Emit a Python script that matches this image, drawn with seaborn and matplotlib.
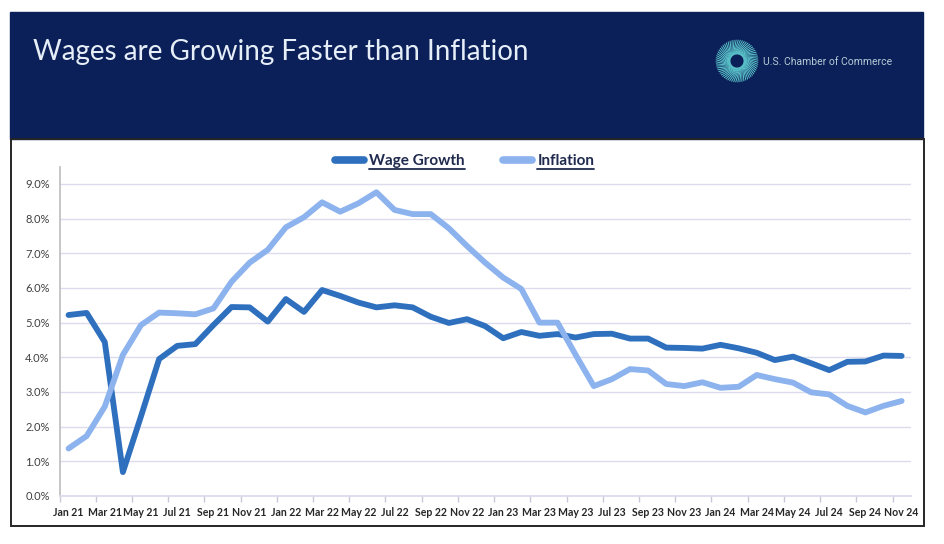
import numpy as np
import pandas as pd
import seaborn as sns
import matplotlib.pyplot as plt
from matplotlib.lines import Line2D
from matplotlib.patches import Rectangle
from matplotlib.ticker import PercentFormatter, FixedLocator

# monthly data, Jan 2021 - Nov 2024 (percent)
months = pd.date_range("2021-01-01", "2024-11-01", freq="MS")
tick_labels = ["Jan 21", "Mar 21", "May 21", "Jul 21", "Sep 21", "Nov 21",
               "Jan 22", "Mar 22", "May 22", "Jul 22", "Sep 22", "Nov 22",
               "Jan 23", "Mar 23", "May 23", "Jul 23", "Sep 23", "Nov 23",
               "Jan 24", "Mar 24", "May 24", "Jul 24", "Sep 24", "Nov 24"]
wage_growth = [5.22, 5.28, 4.44, 0.69, 2.30, 3.95, 4.33, 4.38, 4.93, 5.45, 5.44, 5.03,
               5.68, 5.31, 5.94, 5.77, 5.58, 5.44, 5.50, 5.44, 5.17, 4.99, 5.10, 4.90,
               4.55, 4.73, 4.62, 4.67, 4.57, 4.67, 4.68, 4.54, 4.54, 4.28, 4.27, 4.25,
               4.36, 4.26, 4.13, 3.92, 4.02, 3.83, 3.63, 3.87, 3.88, 4.05, 4.04]
inflation = [1.37, 1.73, 2.58, 4.07, 4.93, 5.29, 5.27, 5.24, 5.41, 6.18, 6.73, 7.10,
             7.75, 8.04, 8.47, 8.20, 8.44, 8.76, 8.25, 8.13, 8.13, 7.72, 7.21, 6.73,
             6.30, 5.97, 5.00, 5.00, 4.07, 3.17, 3.37, 3.66, 3.62, 3.23, 3.17, 3.28,
             3.12, 3.15, 3.49, 3.37, 3.27, 2.99, 2.93, 2.60, 2.41, 2.60, 2.74]

df = pd.DataFrame({"month": np.arange(len(months)),
                   "Wage Growth": np.array(wage_growth) / 100,
                   "Inflation": np.array(inflation) / 100})
long = df.melt(id_vars="month", var_name="series", value_name="rate")

sns.set_theme(style="white")
plt.rcParams["font.family"] = ["Lato", "DejaVu Sans"]

W, H = 944, 544
fig = plt.figure(figsize=(W / 100, H / 100), dpi=100)

# background slide: navy header, logo, chart frame (pixel coords)
bg = fig.add_axes([0, 0, 1, 1], zorder=0)
bg.set_xlim(0, W)
bg.set_ylim(H, 0)
bg.axis("off")
bg.add_patch(Rectangle((10, 12), 913, 127, color="#0B1F58"))
bg.add_patch(Rectangle((11, 139), 913, 387, fill=False, edgecolor="#262626", lw=1.4))
bg.text(33, 52, "Wages are Growing Faster than Inflation", color="#E6EEF8",
        fontsize=20, va="center", ha="left")

cx, cy = 737, 61
for a in np.linspace(0, 2 * np.pi, 64, endpoint=False):
    r1, r2 = 7, 21
    bg.plot([cx + r1 * np.cos(a), cx + r2 * np.cos(a + 0.55)],
            [cy + r1 * np.sin(a), cy + r2 * np.sin(a + 0.55)],
            color="#5CC6CC", lw=0.7)
bg.text(763, 62, "U.S. Chamber of Commerce", color="#B5CBD6", fontsize=7.5,
        family=["Roboto", "DejaVu Sans"], va="center", ha="left")

# chart
ax = fig.add_axes([59.5 / W, 48 / H, 851.2 / W, 329.4 / H], zorder=1)
ax.patch.set_alpha(0)
sns.lineplot(data=long, x="month", y="rate", hue="series",
             palette={"Wage Growth": "#2E70BE", "Inflation": "#8DB3EE"},
             linewidth=4.2, solid_capstyle="round", solid_joinstyle="round", ax=ax)

ax.set_xlim(-0.5, len(months) - 0.5)
ax.set_ylim(0, 0.095)
ax.set_yticks(np.arange(0, 0.091, 0.01))
ax.yaxis.set_major_formatter(PercentFormatter(1, decimals=1))
ax.grid(axis="y", color="#DCDCEE", lw=1)
ax.set_axisbelow(True)

ax.set_xticks(np.arange(0, len(months), 2))
ax.set_xticklabels(tick_labels, fontweight="bold")
ax.xaxis.set_minor_locator(FixedLocator(np.arange(-0.5, len(months) - 1, 2)))
ax.tick_params(axis="x", which="major", length=0, pad=8, labelsize=7.6, labelcolor="#262626")
ax.tick_params(axis="x", which="minor", length=4, width=1, color="#C8C8D8", bottom=True)
ax.tick_params(axis="y", length=0, pad=7, labelsize=8, labelcolor="#404040")
ax.set_xlabel("")
ax.set_ylabel("")
sns.despine(ax=ax)
ax.spines["left"].set_color("#BFBFBF")
ax.spines["bottom"].set_color("#D9D9EC")

handles, labels = ax.get_legend_handles_labels()
for h in handles:
    h.set_linewidth(5.5)
leg = ax.legend(handles, labels, ncol=2, loc="center", bbox_to_anchor=(0.476, 1.017),
                frameon=False, handlelength=1.9, handletextpad=0.35, columnspacing=2.5,
                prop={"weight": "bold", "size": 11})
for t in leg.get_texts():
    t.set_color("#1F2A4E")

# underline legend labels
fig.canvas.draw()
for t in leg.get_texts():
    bb = t.get_window_extent()
    y = bb.y0 - 1
    fig.add_artist(Line2D([bb.x0 / W, bb.x1 / W], [y / H, y / H],
                          color="#1F2A4E", lw=1.3, transform=fig.transFigure))

fig.savefig("out.png", dpi=100)
